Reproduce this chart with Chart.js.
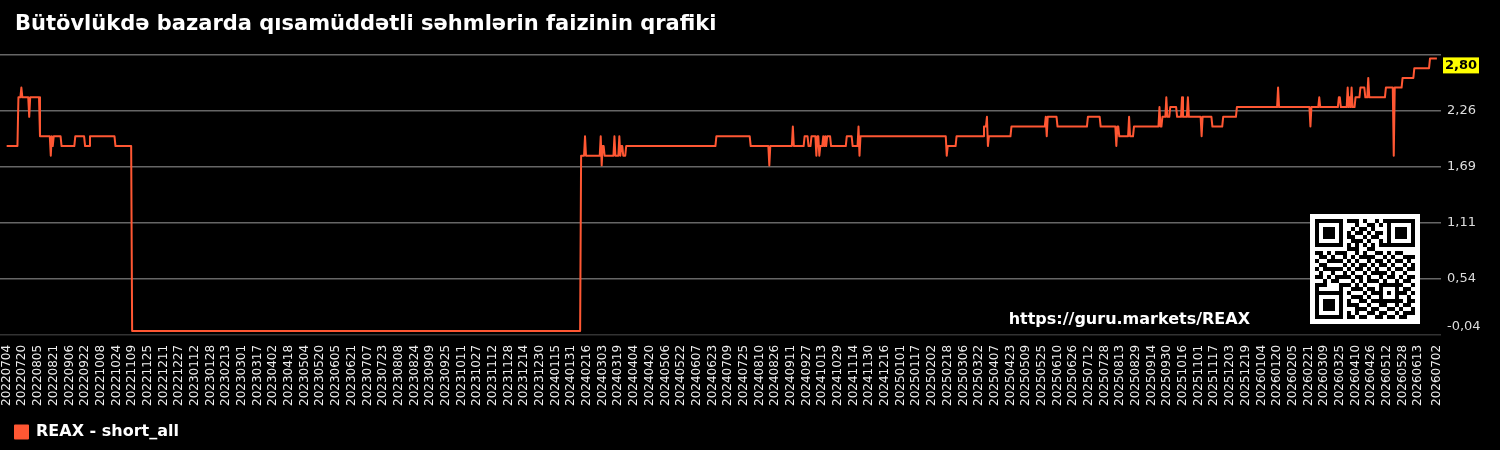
<!DOCTYPE html>
<html>
<head>
<meta charset="utf-8">
<script src="https://cdn.jsdelivr.net/npm/chart.js@4.4.1/dist/chart.umd.min.js"></script>
<style>
  html, body { margin: 0; padding: 0; background: #000; }
  #wrap { width: 1500px; height: 450px; }
</style>
</head>
<body>
<div id="wrap"><canvas id="shortChart" width="1500" height="450"></canvas></div>
<script>
const chartTitle = 'Bütövlükdə bazarda qısamüddətli səhmlərin faizinin qrafiki';
const seriesLabel = 'REAX - short_all';
const watermarkText = 'https://guru.markets/REAX';
const startDate = '20220704';
const lastDay = 1459;          // 20260702
const tickStepDays = 16;
const lastValue = 2.80;

// y axis grid / labels
const yTickValues = [-0.04, 0.535, 1.11, 1.685, 2.26, 2.835];
const yTickLabels = ['-0,04', '0,54', '1,11', '1,69', '2,26', ''];

// days since startDate, and the value read at that day (line changes)
const pointDays = [
  0, 11, 12, 14, 15, 16, 22, 23, 24, 33, 34, 44, 45, 46, 47, 48, 55, 56, 69, 70,
  79, 80, 84, 85, 110, 111, 127, 128, 585, 586, 589, 590, 591, 605, 606, 607, 608, 609, 610, 619,
  620, 621, 624, 625, 626, 627, 628, 629, 631, 632, 723, 724, 758, 759, 777, 778, 779, 801, 802, 803,
  813, 814, 817, 818, 820, 821, 825, 826, 827, 828, 829, 830, 832, 833, 834, 835, 836, 837, 840, 841,
  856, 857, 862, 863, 868, 869, 870, 871, 958, 959, 960, 968, 969, 996, 997, 999, 1000, 1001, 1002, 1024,
  1025, 1059, 1060, 1061, 1062, 1071, 1072, 1102, 1103, 1115, 1116, 1131, 1132, 1133, 1134, 1135, 1144, 1145, 1146, 1149,
  1150, 1175, 1176, 1177, 1178, 1179, 1182, 1183, 1184, 1186, 1187, 1193, 1194, 1198, 1199, 1200, 1204, 1205, 1206, 1218,
  1219, 1220, 1229, 1230, 1240, 1241, 1254, 1255, 1296, 1297, 1298, 1329, 1330, 1331, 1338, 1339, 1340, 1358, 1359, 1360,
  1361, 1367, 1368, 1369, 1370, 1371, 1372, 1373, 1375, 1376, 1380, 1381, 1385, 1386, 1388, 1389, 1390, 1406, 1407, 1414,
  1415, 1416, 1423, 1424, 1435, 1436, 1451, 1452, 1459
];
const pointValues = [
  1.90, 1.90, 2.40, 2.40, 2.50, 2.40, 2.40, 2.20, 2.40, 2.40, 2.00, 2.00, 1.80, 2.00, 1.90, 2.00, 2.00, 1.90, 1.90, 2.00,
  2.00, 1.90, 1.90, 2.00, 2.00, 1.90, 1.90, 0.00, 0.00, 1.80, 1.80, 2.00, 1.80, 1.80, 2.00, 1.70, 1.90, 1.90, 1.80, 1.80,
  2.00, 1.80, 1.80, 2.00, 1.80, 1.90, 1.90, 1.80, 1.80, 1.90, 1.90, 2.00, 2.00, 1.90, 1.90, 1.70, 1.90, 1.90, 2.10, 1.90,
  1.90, 2.00, 2.00, 1.90, 1.90, 2.00, 2.00, 1.80, 2.00, 2.00, 1.80, 1.90, 1.90, 2.00, 1.90, 2.00, 1.90, 2.00, 2.00, 1.90,
  1.90, 2.00, 2.00, 1.90, 1.90, 2.10, 1.80, 2.00, 2.00, 1.80, 1.90, 1.90, 2.00, 2.00, 2.10, 2.10, 2.20, 1.90, 2.00, 2.00,
  2.10, 2.10, 2.20, 2.00, 2.20, 2.20, 2.10, 2.10, 2.20, 2.20, 2.10, 2.10, 1.90, 2.10, 2.10, 2.00, 2.00, 2.20, 2.00, 2.00,
  2.10, 2.10, 2.30, 2.10, 2.10, 2.20, 2.20, 2.40, 2.20, 2.20, 2.30, 2.30, 2.20, 2.20, 2.40, 2.20, 2.20, 2.40, 2.20, 2.20,
  2.00, 2.20, 2.20, 2.10, 2.10, 2.20, 2.20, 2.30, 2.30, 2.50, 2.30, 2.30, 2.10, 2.30, 2.30, 2.40, 2.30, 2.30, 2.40, 2.40,
  2.30, 2.30, 2.50, 2.30, 2.40, 2.30, 2.50, 2.30, 2.30, 2.40, 2.40, 2.50, 2.50, 2.40, 2.40, 2.60, 2.40, 2.40, 2.50, 2.50,
  1.80, 2.50, 2.50, 2.60, 2.60, 2.70, 2.70, 2.80, 2.80
];

// QR-like block in the corner (module rows, 1 = dark)
const qrRows = [
  '1011010011101001011010110', '0110101100100110101101001', '1100110101011010010011011',
  '0011011010110101101100100', '1010100111001011010101101', '0101011001110100101010010',
  '1110010110011011100101101', '0001101011100110011010111', '1101011100101001101011000',
  '0110100101011110010100111', '1001111010100101101011010', '0110001101011010110100101',
  '1011110010110101001011011', '0100101101001011110100100', '1101010110110100101101011',
  '0010111001010111010010110', '1110001110101000111001001', '0101100101110110100110110',
  '1010011010001011011001101', '0111100101110100100110010', '1000111010011011011101011',
  '0110010111100100110010110', '1011101000111011001101001', '0100110110100110110010111',
  '1101001011011001101101100'
];

const FONT = 'DejaVu Sans';
Chart.defaults.font.family = FONT;

const startMs = Date.UTC(+startDate.slice(0, 4), +startDate.slice(4, 6) - 1, +startDate.slice(6, 8));
function dayLabel(d) {
  const dt = new Date(startMs + d * 86400000);
  return dt.getUTCFullYear() + String(dt.getUTCMonth() + 1).padStart(2, '0') + String(dt.getUTCDate()).padStart(2, '0');
}
// a label every 16 days, the final date replaces the last regular one when too close
const xTickDays = [];
for (let d = 0; d <= lastDay; d += tickStepDays) xTickDays.push(d);
if (lastDay - xTickDays[xTickDays.length - 1] < tickStepDays / 2) xTickDays.pop();
if (xTickDays[xTickDays.length - 1] !== lastDay) xTickDays.push(lastDay);

function qrDark(r, c) {
  const finder = (fr, fc) => {
    if (fr > 6 || fc > 6) return false;
    return fr === 0 || fr === 6 || fc === 0 || fc === 6 || (fr >= 2 && fr <= 4 && fc >= 2 && fc <= 4);
  };
  if (r < 8 && c < 8) return finder(r, c);
  if (r < 8 && c > 16) return finder(r, c - 18);
  if (r > 16 && c < 8) return finder(r - 18, c);
  if (r >= 16 && r <= 20 && c >= 16 && c <= 20) {
    const ar = r - 16, ac = c - 16;
    return ar === 0 || ar === 4 || ac === 0 || ac === 4 || (ar === 2 && ac === 2);
  }
  if (r === 6) return c % 2 === 0;
  if (c === 6) return r % 2 === 0;
  return (qrRows[r] || '').charAt(c) === '1';
}

const extrasPlugin = {
  id: 'extras',
  beforeDraw(chart) {
    const ctx = chart.ctx;
    ctx.save();
    ctx.fillStyle = '#000';
    ctx.fillRect(0, 0, chart.width, chart.height);
    ctx.restore();
  },
  afterDraw(chart) {
    const ctx = chart.ctx;
    const y = chart.scales.y;
    ctx.save();
    // title
    ctx.fillStyle = '#fff';
    ctx.font = 'bold 21px "' + FONT + '"';
    ctx.textAlign = 'left';
    ctx.textBaseline = 'middle';
    ctx.fillText(chartTitle, 15, 25);

    // qr block
    const qx = 1310, qy = 214;
    ctx.fillStyle = '#fff';
    ctx.fillRect(qx, qy, 110, 110);
    ctx.fillStyle = '#000';
    for (let r = 0; r < 25; r++) {
      for (let c = 0; c < 25; c++) {
        if (qrDark(r, c)) ctx.fillRect(qx + 5 + c * 4, qy + 5 + r * 4, 4, 4);
      }
    }

    // watermark
    ctx.fillStyle = '#fff';
    ctx.font = 'bold 16px "' + FONT + '"';
    ctx.textAlign = 'right';
    ctx.fillText(watermarkText, 1250, 320);

    // last value badge
    const py = y.getPixelForValue(lastValue);
    const bx = y.left + 2, bw = 36, bh = 16, by = py - 1;
    ctx.fillStyle = '#ffff00';
    ctx.fillRect(bx, by, bw, bh);
    ctx.fillStyle = '#000';
    ctx.font = 'bold 13px "' + FONT + '"';
    ctx.textAlign = 'center';
    ctx.fillText(lastValue.toFixed(2).replace('.', ','), bx + bw / 2, by + bh / 2 + 0.5);
    ctx.restore();
  }
};

const ctx = document.getElementById('shortChart').getContext('2d');
const shortChart = new Chart(ctx, {
  type: 'line',
  data: {
    datasets: [{
      label: seriesLabel,
      data: pointDays.map((d, i) => ({ x: d, y: pointValues[i] })),
      borderColor: '#ff5733',
      backgroundColor: '#ff5733',
      borderWidth: 2,
      borderJoinStyle: 'round',
      pointRadius: 0,
      tension: 0,
      fill: false
    }]
  },
  options: {
    responsive: false,
    animation: false,
    devicePixelRatio: 1,
    layout: { padding: { top: 55, left: 0, right: 0, bottom: 0 } },
    scales: {
      x: {
        type: 'linear',
        min: -6.8,
        max: 1463.2,
        grid: { display: false, drawTicks: false },
        border: { display: false },
        afterBuildTicks: s => { s.ticks = xTickDays.map(v => ({ value: v })); },
        afterFit: s => {
          s.height = s.height - 7;
          s.paddingLeft = 0;
          s.paddingRight = 0;
        },
        ticks: {
          autoSkip: false,
          maxRotation: 90,
          minRotation: 90,
          color: '#eeeeee',
          font: { size: 12 },
          padding: 10,
          callback: v => dayLabel(v)
        }
      },
      y: {
        position: 'right',
        min: yTickValues[0],
        max: yTickValues[yTickValues.length - 1],
        afterBuildTicks: s => { s.ticks = yTickValues.map(v => ({ value: v })); },
        afterFit: s => { s.width = 59; },
        grid: {
          color: c => (c.index === 0 ? '#333333' : '#666666'),
          lineWidth: 1.5,
          drawTicks: false
        },
        border: { display: false },
        ticks: {
          color: '#dddddd',
          font: { size: 13 },
          padding: 6,
          callback: (v, i) => (i === 0 ? [yTickLabels[i], ''] : yTickLabels[i])
        }
      }
    },
    plugins: {
      title: { display: false },
      tooltip: { enabled: false },
      legend: {
        position: 'bottom',
        align: 'start',
        labels: {
          color: '#ffffff',
          font: { size: 16, weight: 'bold' },
          boxWidth: 13,
          boxHeight: 13,
          padding: 15
        }
      }
    }
  },
  plugins: [extrasPlugin]
});
</script>
</body>
</html>
